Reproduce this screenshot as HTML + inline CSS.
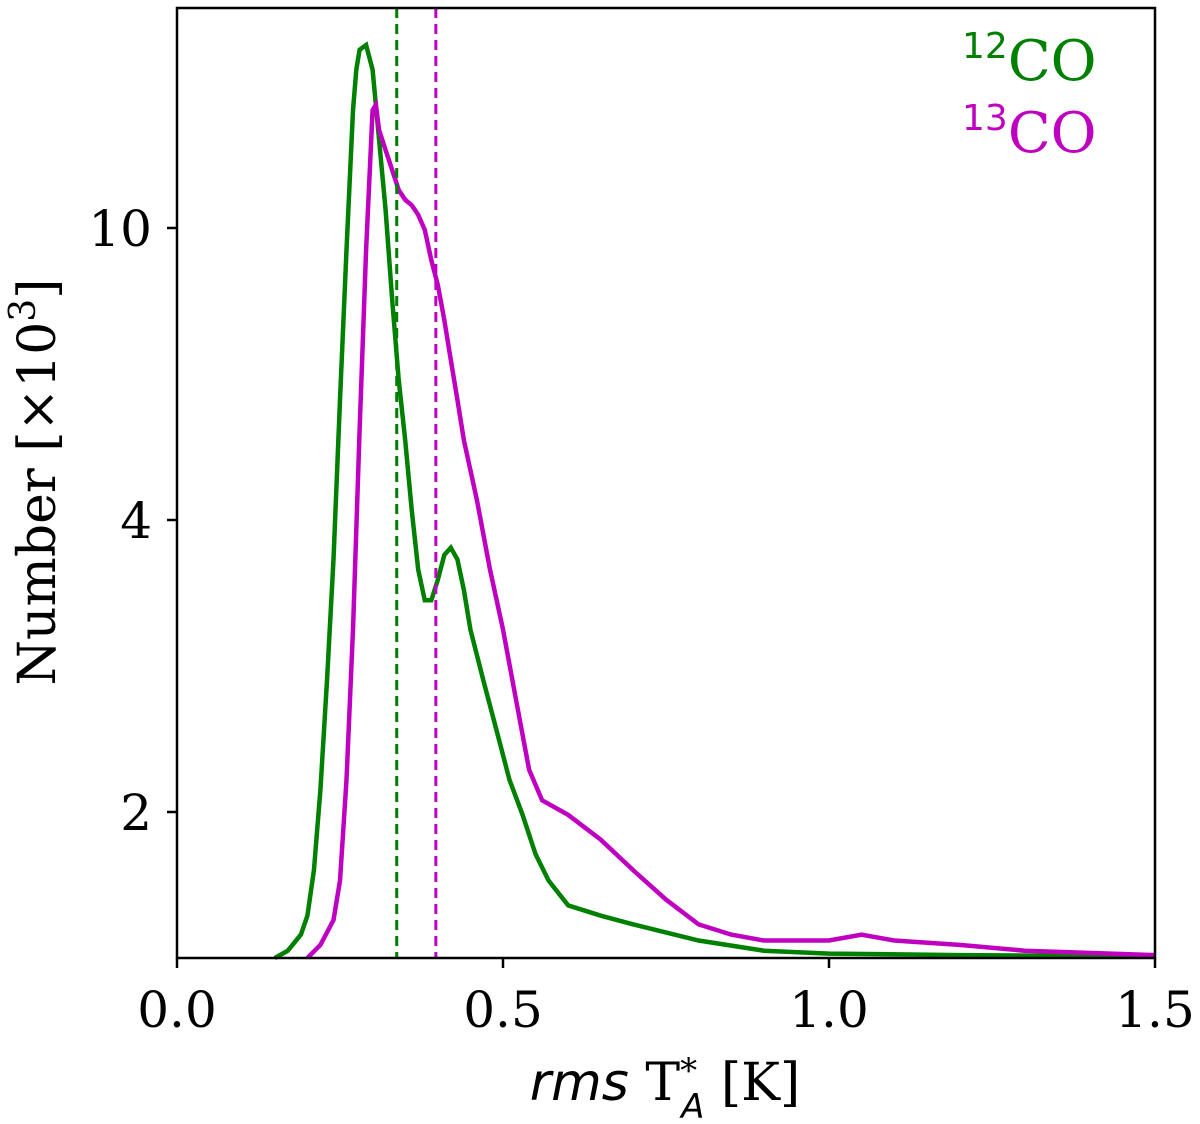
<!DOCTYPE html>
<html><head><meta charset="utf-8"><style>
html,body{margin:0;padding:0;background:#fff;}
body{position:relative;}
svg{display:block;font-family:"DejaVu Serif","Liberation Serif",serif;}
</style></head><body>
<svg id="chart" width="1200" height="1124" viewBox="0 0 1200 1124">
<g id="plot"></g>
</svg>
<script>
const xTicks=[0.0,0.5,1.0,1.5];
const xTickLabels=["0.0","0.5","1.0","1.5"];
const yTicks=[2,4,10];
const yTickLabels=["2","4","10"];
const co12X=[0.15,0.17,0.19,0.2,0.21,0.22,0.23,0.24,0.25,0.26,0.27,0.275,0.28,0.29,0.30,0.31,0.32,0.33,0.34,0.35,0.36,0.37,0.38,0.39,0.40,0.41,0.42,0.43,0.44,0.45,0.47,0.49,0.51,0.53,0.55,0.57,0.6,0.65,0.7,0.8,0.9,1.0,1.2,1.5];
const co12Y=[1.0,1.05,1.16,1.29,1.60,2.15,2.90,3.73,6.47,9.55,12.42,13.25,13.66,13.76,13.25,11.81,10.37,8.52,6.88,5.64,4.21,3.66,3.45,3.45,3.59,3.76,3.81,3.73,3.52,3.25,2.90,2.56,2.22,1.98,1.71,1.53,1.36,1.29,1.23,1.12,1.05,1.03,1.02,1.01];
const co13X=[0.2,0.22,0.24,0.25,0.26,0.27,0.28,0.29,0.3,0.305,0.31,0.32,0.33,0.34,0.35,0.36,0.37,0.38,0.39,0.4,0.41,0.42,0.43,0.44,0.46,0.48,0.5,0.52,0.54,0.56,0.6,0.65,0.7,0.75,0.8,0.85,0.9,1.0,1.05,1.1,1.2,1.3,1.5];
const co13Y=[1.0,1.09,1.26,1.53,2.22,3.25,5.85,9.55,12.42,12.53,12.01,11.60,11.19,10.78,10.58,10.47,10.27,9.96,9.34,8.83,8.11,7.29,6.47,5.64,4.41,3.66,3.25,2.77,2.29,2.08,1.98,1.81,1.60,1.40,1.23,1.16,1.12,1.12,1.16,1.12,1.09,1.05,1.02];
const meanLines=[0.337,0.397];

const X0=177,X1=1155,Y0=958,Ytop=8;
function sx(v){return X0+(X1-X0)*v/1.5;}
function sy(v){
  if(v<=4){return 812-(v-2)*146;}
  return 520-(v-4)*48.67;
}
const svg=document.getElementById('chart');
const NS='http://www.w3.org/2000/svg';
function mk(tag,attrs){const e=document.createElementNS(NS,tag);for(const k in attrs)e.setAttribute(k,attrs[k]);svg.appendChild(e);return e;}

function series(xs,ys,color,name){
  const pts=xs.map((x,i)=>sx(x).toFixed(1)+','+sy(ys[i]).toFixed(1)).join(' ');
  const p=mk('polyline',{points:pts,fill:'none',stroke:color,'stroke-width':4.5,'stroke-linejoin':'miter'});
  
  
}
series(co12X,co12Y,'#008000','series-12co');
series(co13X,co13Y,'#c000c0','series-13co');

const mcol=['#008000','#c000c0'];
meanLines.forEach((m,i)=>{
  const l=mk('line',{x1:sx(m),x2:sx(m),y1:Ytop,y2:Y0,stroke:mcol[i],'stroke-width':3,'stroke-dasharray':'10,6'});
  
  
});

const frame=mk('rect',{x:X0,y:Ytop,width:X1-X0,height:Y0-Ytop,fill:'none',stroke:'#000','stroke-width':2.5});



xTicks.forEach((t,i)=>{
  const l=mk('line',{x1:sx(t),x2:sx(t),y1:Y0,y2:Y0+10,stroke:'#000','stroke-width':2.5});
  
  
  const tx=mk('text',{x:sx(t),y:1027,'text-anchor':'middle','font-size':50,fill:'#000'});
  tx.textContent=xTickLabels[i];
  
  
});
yTicks.forEach((t,i)=>{
  const l=mk('line',{x1:X0-10,x2:X0,y1:sy(t),y2:sy(t),stroke:'#000','stroke-width':2.5});
  
  
  const tx=mk('text',{x:152,y:sy(t)+18,'text-anchor':'end','font-size':50,fill:'#000'});
  tx.textContent=yTickLabels[i];
  
  
});
</script>
<svg style="position:absolute;left:0;top:0" width="1200" height="1124">
<text x="0" y="0" transform="translate(55,482) rotate(-90)" text-anchor="middle" font-size="52" font-family="DejaVu Serif,serif" fill="#000">Number [×10<tspan dy="-20" font-size="36">3</tspan><tspan dy="20">]</tspan></text>
<text x="665" y="1100" text-anchor="middle" font-size="52" font-family="DejaVu Serif,serif" fill="#000"><tspan font-family="DejaVu Sans,sans-serif" font-style="italic">rms</tspan> T<tspan dy="-18" font-size="34">*</tspan><tspan dx="-16" dy="36" font-size="34" font-family="DejaVu Sans,sans-serif" font-style="italic">A</tspan><tspan dy="-18"> [K]</tspan></text>
<text x="962" y="80" font-size="56" font-family="DejaVu Serif,serif" fill="#008000"><tspan font-family="DejaVu Sans,sans-serif" font-size="36" dy="-22">12</tspan><tspan dy="22">CO</tspan></text>
<text x="962" y="152" font-size="56" font-family="DejaVu Serif,serif" fill="#c000c0"><tspan font-family="DejaVu Sans,sans-serif" font-size="36" dy="-22">13</tspan><tspan dy="22">CO</tspan></text>
</svg>
</body></html>
